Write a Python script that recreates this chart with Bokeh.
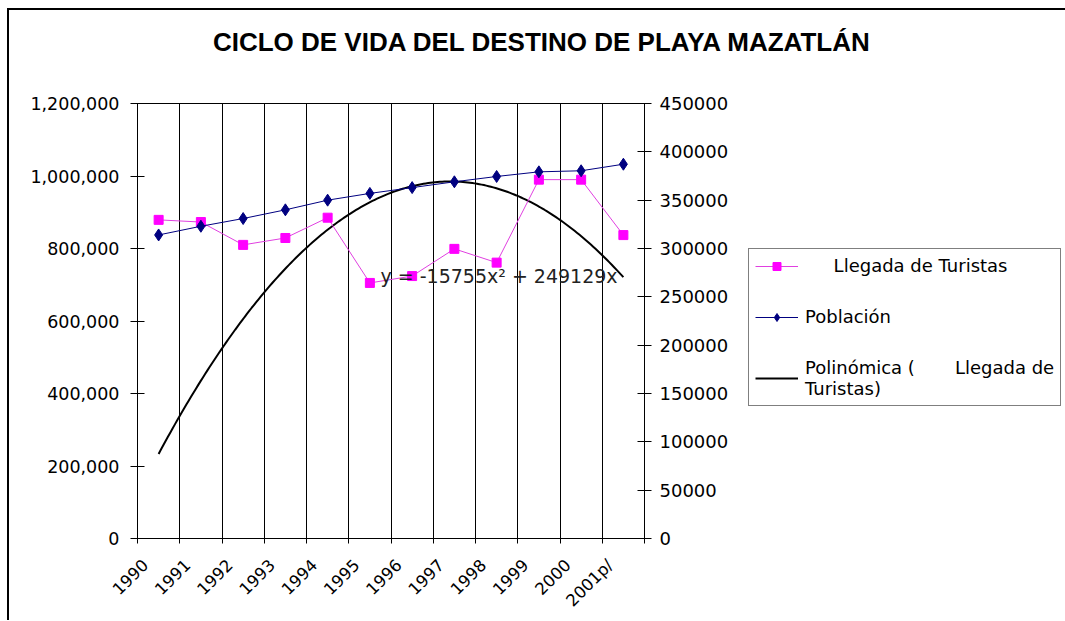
from bokeh.plotting import figure
from bokeh.layouts import column, row
from bokeh.models import (Range1d, LinearAxis, FixedTicker, NumeralTickFormatter, Grid,
                          BasicTickFormatter, Legend, LegendItem, Label, ColumnDataSource)
from bokeh.core.properties import value
from bokeh.embed import file_html
from bokeh.resources import INLINE

title_text = "CICLO DE VIDA DEL DESTINO DE PLAYA MAZATLÁN"
years = ["1990", "1991", "1992", "1993", "1994", "1995", "1996", "1997",
         "1998", "1999", "2000", "2001p/"]
llegada = [879000, 873000, 810000, 829000, 885000, 705000, 724000, 799000,
           761000, 990000, 990000, 837000]
poblacion = [314000, 323000, 331000, 340000, 350000, 357000, 363000, 369000,
             374500, 379300, 380400, 387200]
# trend line shown in the chart: y = -15755x^2 + 249129x
trend_a = -15755
trend_b = 249129
left_ticks = [0, 200000, 400000, 600000, 800000, 1000000, 1200000]
right_ticks = [0, 50000, 100000, 150000, 200000, 250000, 300000, 350000, 400000, 450000]

FONT = "DejaVu Sans"
n = len(years)
xpos = [i + 0.5 for i in range(n)]

# ---------------- title strip ----------------
TW, TH = 1056, 78
pt = figure(width=TW, height=TH, output_backend="svg", toolbar_location=None,
            x_range=Range1d(0, TW), y_range=Range1d(0, TH),
            x_axis_type=None, y_axis_type=None,
            min_border_left=0, min_border_right=0, min_border_top=0, min_border_bottom=0)
pt.outline_line_color = None
pt.xgrid.visible = False
pt.ygrid.visible = False
pt.text(x=[533], y=[47], text=[title_text], text_align="center", text_baseline="middle",
        text_font=value("Liberation Sans"), text_font_style="bold",
        text_font_size="26px", text_color="black")

# ---------------- main chart ----------------
p = figure(width=725, height=532, output_backend="svg", toolbar_location=None,
           x_range=Range1d(0, n), y_range=Range1d(0, 1200000),
           min_border_left=128, min_border_right=90, min_border_top=15,
           min_border_bottom=82, x_axis_type=None, y_axis_type=None)
p.extra_y_ranges = {"pob": Range1d(0, 450000)}
p.outline_line_color = "black"
p.outline_line_width = 1
p.background_fill_color = "white"
p.border_fill_color = "white"

# x axis
lbl_pos = [i + 0.1875 for i in range(n)]
xaxis = LinearAxis(ticker=FixedTicker(ticks=lbl_pos, minor_ticks=list(range(n + 1))))
xaxis.major_label_overrides = {pos: y for pos, y in zip(lbl_pos, years)}
xaxis.major_label_orientation = 0.785398
xaxis.major_tick_out = 0
xaxis.major_tick_in = 0
xaxis.minor_tick_out = 5
xaxis.minor_tick_in = 0
xaxis.minor_tick_line_color = "black"
xaxis.major_label_standoff = 19
xaxis.major_label_text_font = FONT
xaxis.major_label_text_font_size = "16.5px"
xaxis.major_label_text_color = "black"
xaxis.axis_line_color = "black"
p.add_layout(xaxis, "below")

# left axis
yaxis = LinearAxis(ticker=FixedTicker(ticks=left_ticks),
                   formatter=NumeralTickFormatter(format="0,0"))
yaxis.major_tick_in = 7
yaxis.major_tick_out = 7
yaxis.minor_tick_out = 0
yaxis.minor_tick_in = 0
yaxis.major_label_standoff = 11
yaxis.major_label_text_font = FONT
yaxis.major_label_text_font_size = "17.5px"
yaxis.major_label_text_color = "black"
yaxis.axis_line_color = "black"
yaxis.major_tick_line_color = "black"
p.add_layout(yaxis, "left")

# right axis
raxis = LinearAxis(y_range_name="pob", ticker=FixedTicker(ticks=right_ticks),
                   formatter=BasicTickFormatter(use_scientific=False))
raxis.major_tick_in = 7
raxis.major_tick_out = 7
raxis.minor_tick_out = 0
raxis.minor_tick_in = 0
raxis.major_label_standoff = 8
raxis.major_label_text_font = FONT
raxis.major_label_text_font_size = "18px"
raxis.major_label_text_color = "black"
raxis.axis_line_color = "black"
raxis.major_tick_line_color = "black"
p.add_layout(raxis, "right")

# vertical grid
grid = Grid(dimension=0, ticker=FixedTicker(ticks=list(range(n + 1))),
            grid_line_color="black", grid_line_width=1)
p.add_layout(grid)

src = ColumnDataSource(dict(x=xpos, lleg=llegada, pob=poblacion))

# trend curve
tx = [0.5 + k * (n - 1) / 200 for k in range(201)]
ty = [trend_a * (t + 0.5) ** 2 + trend_b * (t + 0.5) for t in tx]
LL = dict(line_color="#E040E0", line_width=1)
LM = dict(marker="square", size=9, fill_color="#FF00FF", line_color="#FF00FF")
PL = dict(line_color="#000080", line_width=1)
PM = dict(marker="diamond", size=12, fill_color="#000080", line_color="#000080")
TL = dict(line_color="black", line_width=2)

p.line(tx, ty, **TL)
p.line("x", "lleg", source=src, **LL)
p.scatter("x", "lleg", source=src, **LM)
p.line("x", "pob", source=src, y_range_name="pob", **PL)
p.scatter("x", "pob", source=src, y_range_name="pob", **PM)

eq = Label(x=5.75, y=723000, text="y = -15755x² + 249129x", text_font=FONT,
           text_font_size="19px", text_color="#222222", text_baseline="middle")
p.add_layout(eq)

# ---------------- legend panel ----------------
pl = figure(width=331, height=532, output_backend="svg", toolbar_location=None,
            x_range=Range1d(0, 1), y_range=Range1d(0, 1),
            x_axis_type=None, y_axis_type=None,
            min_border_left=0, min_border_right=0, min_border_top=0, min_border_bottom=0)
pl.outline_line_color = None
pl.xgrid.visible = False
pl.ygrid.visible = False
# legend-only renderers: a single point far outside the visible range
e = ColumnDataSource(dict(x=[-10], y=[-10]))
g_ll = pl.line("x", "y", source=e, **LL)
g_lm = pl.scatter("x", "y", source=e, **LM)
g_pl = pl.line("x", "y", source=e, **PL)
g_pm = pl.scatter("x", "y", source=e, **PM)
g_t = pl.line("x", "y", source=e, **TL)

sp = "\u00a0"
legend = Legend(items=[
    LegendItem(label=sp * 5 + "Llegada de Turistas", renderers=[g_ll, g_lm]),
    LegendItem(label="Población", renderers=[g_pl, g_pm]),
    LegendItem(label="Polinómica (" + sp * 7 + "Llegada de\nTuristas)", renderers=[g_t]),
], location=(14, 132))
legend.label_text_font = FONT
legend.label_text_font_size = "18px"
legend.label_text_color = "black"
legend.label_text_line_height = 1.1
legend.glyph_width = 43
legend.glyph_height = 20
legend.label_height = 20
legend.label_standoff = 7
legend.spacing = 30
legend.padding = 6
legend.margin = 0
legend.border_line_color = "black"
legend.border_line_width = 1
legend.background_fill_color = "white"
legend.background_fill_alpha = 1
pl.add_layout(legend)

layout = column(pt, row(p, pl))
layout.margin = (8, 0, 0, 7)
layout.styles = {"border-left": "2px solid black", "border-top": "2px solid black"}

open("out.html", "w").write(file_html(layout, INLINE))
